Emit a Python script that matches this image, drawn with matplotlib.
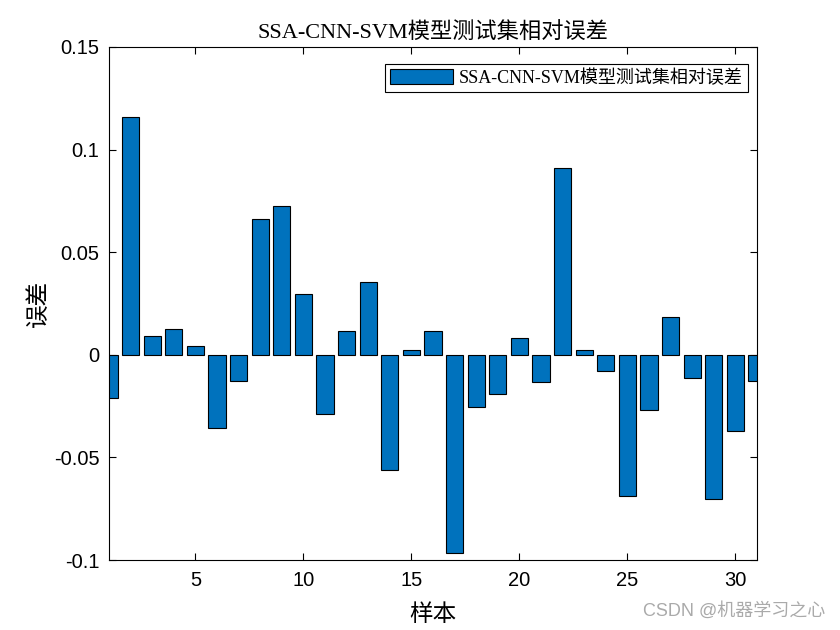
import matplotlib.pyplot as plt
import numpy as np

samples = np.arange(1, 32)
rel_err = [-0.021, 0.116, 0.0093, 0.0127, 0.0044, -0.0356, -0.0127, 0.0663, 0.0726, 0.0297,
           -0.0288, 0.0117, 0.0356, -0.056, 0.0024, 0.0117, -0.0965, -0.0253, -0.019, 0.0083,
           -0.0132, 0.0911, 0.0024, -0.0078, -0.0687, -0.0268, 0.0185, -0.0112, -0.0702, -0.037,
           -0.0127]
yticks = [-0.1, -0.05, 0, 0.05, 0.1, 0.15]
ytick_labels = ["-0.1", "-0.05", "0", "0.05", "0.1", "0.15"]
xticks = [5, 10, 15, 20, 25, 30]

label = "SSA-CNN-SVM模型测试集相对误差"
serif_cjk = ["Liberation Serif", "Noto Sans CJK SC"]
sans = ["Liberation Sans", "DejaVu Sans"]

fig = plt.figure(figsize=(8.4, 6.3), dpi=100)
ax = fig.add_axes([0.1298, 0.1111, 0.7714, 0.8143])

ax.bar(samples, rel_err, width=0.8, color="#0072BD", edgecolor="black", linewidth=0.8,
       label=label, zorder=2)

ax.set_xlim(1, 31)
ax.set_ylim(-0.1, 0.15)
ax.set_xticks(xticks)
ax.set_yticks(yticks)
ax.set_yticklabels(ytick_labels)
ax.tick_params(direction="in", top=True, right=True, length=5, width=0.8, labelsize=14.5)
ax.tick_params(axis="x", pad=8)
ax.tick_params(axis="y", pad=7)
for lbl in ax.get_xticklabels() + ax.get_yticklabels():
    lbl.set_family(sans)
for sp in ax.spines.values():
    sp.set_linewidth(0.8)

ax.set_title(label, fontsize=16, family=serif_cjk, pad=6)
ax.set_xlabel("样本", fontsize=17, family=serif_cjk, labelpad=10)
ax.set_ylabel("误差", fontsize=17, family=serif_cjk, labelpad=3)

leg = ax.legend(loc="upper right", bbox_to_anchor=(0.986, 0.967),
                prop={"family": serif_cjk, "size": 13}, fancybox=False,
                edgecolor="black", framealpha=1, handlelength=3.5, handleheight=0.9,
                handletextpad=0.3, borderpad=0.3, borderaxespad=0)
leg.get_frame().set_linewidth(0.8)

fig.text(0.983, 0.016, "CSDN @机器学习之心", ha="right", va="bottom", fontsize=13,
         color="#aaaaaa", family=["Liberation Sans", "Noto Sans CJK SC"])

fig.savefig("out.png", dpi=100, facecolor="white")
